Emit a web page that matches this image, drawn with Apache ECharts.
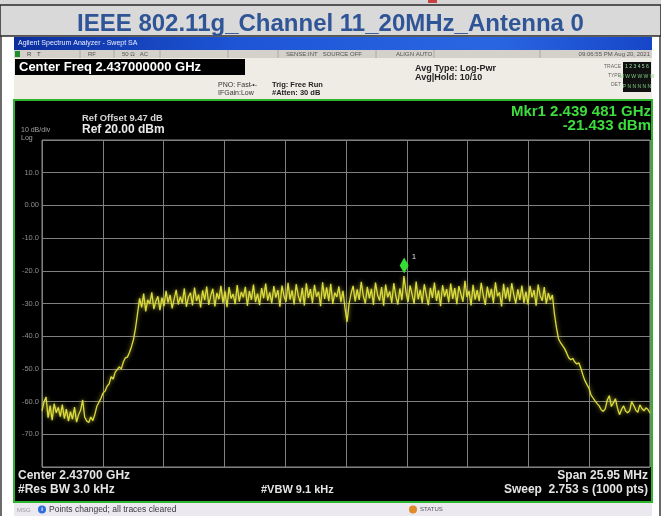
<!DOCTYPE html>
<html>
<head>
<meta charset="utf-8">
<script src="https://cdn.jsdelivr.net/npm/echarts@6/dist/echarts.min.js"></script>
<style>
  html, body { margin: 0; padding: 0; background: #ffffff; }
  #chart { width: 661px; height: 516px; }
</style>
</head>
<body>
<div id="chart"></div>
<script>
// ---- measurement setup ----
const titleText = 'IEEE 802.11g_Channel 11_20MHz_Antenna 0';
const centerFreqGHz = 2.437;
const spanMHz = 25.95;
const refLevelDbm = 20;
const bottomLevelDbm = -80;
const dbPerDiv = 10;

// y tick labels printed beside the graticule
const yTickValues = [10, 0, -10, -20, -30, -40, -50, -60, -70];
const yTickLabels = ['10.0', '0.00', '-10.0', '-20.0', '-30.0', '-40.0', '-50.0', '-60.0', '-70.0'];

// marker 1
const markerFreqGHz = 2.439481;
const markerLevelDbm = -21.433;

// swept trace, dBm, evenly spaced across the span
const traceDbm = [
  -62.8, -60.1, -58.6, -64.9, -61.2, -65.7, -60.6, -63.4, -61.8, -64.6,
  -60.9, -65.2, -62.3, -66.0, -63.1, -65.4, -61.7, -66.3, -64.0, -62.6,
  -59.5, -64.8, -65.9, -66.4, -64.7, -65.8, -63.9, -61.4, -60.2, -59.0,
  -57.4, -56.8, -55.3, -54.6, -52.4, -53.1, -51.0, -50.2, -49.4, -50.0,
  -47.9, -46.6, -46.4, -45.0, -43.2, -41.0, -37.5, -33.0, -28.4, -31.2,
  -27.0, -32.4, -28.9, -30.1, -26.6, -31.7, -29.3, -27.8, -32.0, -28.2,
  -30.8, -26.1, -29.7, -27.4, -31.5, -28.6, -25.8, -30.3, -27.9, -29.9,
  -25.4, -31.0, -28.0, -26.7, -30.6, -25.1, -29.2, -27.3, -31.2, -26.0,
  -29.0, -24.8, -30.4, -27.6, -25.5, -30.9, -26.8, -28.7, -24.6, -29.8,
  -26.3, -31.1, -25.0, -28.5, -27.1, -30.2, -24.4, -29.4, -26.5, -28.1,
  -24.9, -30.7, -26.2, -28.9, -24.2, -29.6, -27.0, -30.5, -25.3, -28.4,
  -23.9, -29.1, -26.6, -30.0, -24.7, -28.2, -25.9, -31.0, -24.5, -27.7,
  -29.5, -23.7, -28.8, -26.0, -30.3, -24.1, -27.5, -29.7, -25.2, -30.6,
  -23.8, -28.3, -25.6, -29.9, -24.3, -27.9, -26.4, -30.8, -23.5, -28.6,
  -25.1, -29.3, -24.0, -30.1, -26.7, -28.0, -24.8, -29.6, -26.1, -31.4,
  -35.6, -30.2, -26.9, -24.6, -29.4, -25.7, -28.9, -23.4, -27.6, -30.0,
  -24.9, -28.4, -25.5, -30.4, -23.6, -27.3, -29.1, -25.0, -30.7, -24.2,
  -28.1, -26.3, -29.8, -23.8, -27.7, -30.3, -25.4, -29.0, -21.6, -26.5,
  -29.6, -24.5, -27.2, -30.1, -23.3, -28.7, -25.8, -29.9, -24.1, -27.4,
  -30.5, -25.2, -28.3, -23.6, -29.2, -26.0, -30.8, -24.4, -27.9, -25.6,
  -29.7, -23.9, -28.6, -25.3, -30.2, -24.7, -27.1, -29.5, -23.1, -28.0,
  -26.2, -30.6, -24.3, -28.8, -25.9, -29.3, -23.7, -27.5, -30.4, -24.8,
  -28.2, -25.5, -29.9, -23.5, -27.8, -26.6, -30.9, -24.0, -28.5, -25.1,
  -29.4, -23.8, -27.3, -30.0, -25.7, -28.9, -24.5, -29.8, -26.4, -30.3,
  -24.6, -28.1, -25.9, -30.7, -24.2, -27.6, -29.2, -25.0, -30.1, -26.8,
  -28.9, -27.4, -33.2, -37.4, -40.8, -42.0, -42.9, -43.8, -45.1, -46.6,
  -47.2, -46.8, -47.9, -48.5, -48.1, -49.8, -51.9, -53.6, -54.8, -55.9,
  -58.0, -58.9, -59.8, -60.6, -61.3, -62.5, -63.0, -62.2, -59.5, -58.2,
  -61.5, -60.4, -59.1, -62.0, -64.0, -62.4, -61.3, -62.9, -63.4, -62.8,
  -60.0, -61.2, -62.6, -63.3, -61.0, -62.1, -62.8, -61.9, -62.4, -63.5
];

// ---- build the plotted series (x = offset from center, MHz) ----
const halfSpan = spanMHz / 2;
const divMHz = spanMHz / 10;
const tracePoints = traceDbm.map((v, i) => [-halfSpan + i * spanMHz / (traceDbm.length - 1), v]);
const markerOffsetMHz = (markerFreqGHz - centerFreqGHz) * 1000;

const FONT = '"Liberation Sans", Arial, sans-serif';

function txt(x, y, text, size, color, extra) {
  return Object.assign({
    type: 'text', z: 20,
    style: Object.assign({
      x: x, y: y, text: text, fill: color,
      font: (extra && extra.weight ? extra.weight + ' ' : '') + size + 'px ' + FONT,
      textAlign: (extra && extra.align) || 'left',
      textVerticalAlign: 'middle'
    }, (extra && extra.style) || {})
  }, (extra && extra.el) || {});
}
function box(x, y, w, h, fill, extra) {
  return Object.assign({
    type: 'rect', z: -5,
    shape: { x: x, y: y, width: w, height: h },
    style: Object.assign({ fill: fill }, (extra && extra.style) || {})
  }, (extra && extra.el) || {});
}
function vline(x, y1, y2, color, w) {
  return { type: 'line', z: 15, shape: { x1: x, y1: y1, x2: x, y2: y2 }, style: { stroke: color, lineWidth: w || 1 } };
}

const graphics = [
  // strip of the page above the heading
  box(0, 0, 661, 5, '#d6d6d6'),
  box(428, 0, 9, 3, '#c84040', { el: { z: -4 } }),
  // heading band
  box(0, 5, 661, 31, '#d9d9d9', { style: { stroke: '#2a2a2a', lineWidth: 1.5 } }),
  // page frame below the heading
  vline(1, 36, 516, '#3a3a3a', 1.5),
  vline(660, 36, 516, '#3a3a3a', 1.5),

  // analyzer window title bar
  { type: 'rect', z: -5, shape: { x: 14, y: 37, width: 638, height: 13 },
    style: { fill: new echarts.graphic.LinearGradient(0, 0, 1, 0, [
      { offset: 0, color: '#0c2e9e' }, { offset: 0.35, color: '#1d55d6' },
      { offset: 0.75, color: '#2a66e2' }, { offset: 1, color: '#1646c8' }]) } },
  txt(18, 43.5, 'Agilent Spectrum Analyzer - Swept SA', 7, '#e8eeff'),

  // toolbar row
  box(14, 50, 638, 8, '#d4d1ca'),
  box(15, 51, 5, 6, '#1f8f2a', { el: { z: -4 } }),
  txt(27, 54, 'R', 6, '#444'), txt(37, 54, 'T', 6, '#444'),
  txt(88, 54, 'RF', 6, '#555'), txt(122, 54, '50 Ω   AC', 6, '#555'),
  txt(286, 54, 'SENSE:INT   SOURCE OFF', 6, '#555'),
  txt(396, 54, 'ALIGN AUTO', 6, '#555'),
  txt(650, 54, '09:06:55 PM Aug 20, 2021', 6, '#555', { align: 'right' }),
  vline(80, 50, 58, '#aaa'), vline(114, 50, 58, '#aaa'), vline(160, 50, 58, '#aaa'),
  vline(228, 50, 58, '#aaa'), vline(278, 50, 58, '#aaa'), vline(376, 50, 58, '#aaa'),
  vline(434, 50, 58, '#aaa'), vline(540, 50, 58, '#aaa'),

  // settings area
  box(14, 58, 638, 42, '#efece5'),
  box(15, 59, 230, 16, '#000000', { el: { z: -4 } }),
  txt(19, 67, 'Center Freq 2.437000000 GHz', 13, '#ffffff', { weight: 'bold' }),
  txt(218, 85, 'PNO: Fast', 7, '#333'),
  txt(218, 93, 'IFGain:Low', 7, '#333'),
  txt(250, 85, '-•-', 7, '#333'),
  txt(272, 84.5, 'Trig: Free Run', 7.5, '#222', { weight: 'bold' }),
  txt(272, 93, '#Atten: 30 dB', 7.5, '#222', { weight: 'bold' }),
  txt(415, 69, 'Avg Type: Log-Pwr', 9, '#222', { weight: 'bold' }),
  txt(415, 78, 'Avg|Hold: 10/10', 9, '#222', { weight: 'bold' }),
  txt(621, 67, 'TRACE', 5, '#666', { align: 'right' }),
  txt(621, 76, 'TYPE', 5, '#666', { align: 'right' }),
  txt(621, 85, 'DET', 5, '#666', { align: 'right' }),
  box(623, 62, 28, 30, '#101010', { el: { z: -4 } }),
  txt(637, 67, '1 2 3 4 5 6', 5, '#9be09b', { align: 'center' }),
  txt(637, 77, 'M W W W W W', 5, '#7fcf7f', { align: 'center' }),
  txt(637, 87, 'P N N N N N', 5, '#7fcf7f', { align: 'center' }),

  // display screen
  box(14, 100, 638, 402, '#000000', { style: { stroke: '#2cb52c', lineWidth: 2 } }),
  txt(82, 118, 'Ref Offset 9.47 dB', 9.4, '#d6d6d6', { weight: 'bold' }),
  txt(82, 130, 'Ref 20.00 dBm', 12, '#e8e8e8', { weight: 'bold' }),
  txt(21, 130, '10 dB/div', 7, '#a0a0a0'),
  txt(21, 138.5, 'Log', 7, '#a0a0a0'),
  txt(651, 112, 'Mkr1 2.439 481 GHz', 15, '#3ddc3d', { weight: 'bold', align: 'right' }),
  txt(651, 126, '-21.433 dBm', 15, '#3ddc3d', { weight: 'bold', align: 'right' }),
  txt(18, 476, 'Center 2.43700 GHz', 12, '#e4e4e4', { weight: 'bold' }),
  txt(18, 490, '#Res BW 3.0 kHz', 12, '#e4e4e4', { weight: 'bold' }),
  txt(261, 490, '#VBW 9.1 kHz', 11, '#e4e4e4', { weight: 'bold' }),
  txt(648, 476, 'Span 25.95 MHz', 12, '#e4e4e4', { weight: 'bold', align: 'right' }),
  txt(648, 490, 'Sweep  2.753 s (1000 pts)', 12, '#e4e4e4', { weight: 'bold', align: 'right' }),

  // status bar
  box(14, 503, 638, 13, '#ebe8f0'),
  txt(17, 510, 'MSG', 6, '#9a9a9a'),
  { type: 'circle', z: 15, shape: { cx: 42, cy: 509.5, r: 4 }, style: { fill: '#2f6fd8' } },
  txt(42, 509.5, 'i', 6, '#ffffff', { align: 'center', weight: 'bold' }),
  txt(49, 509.5, 'Points changed; all traces cleared', 8.5, '#3a3a3a'),
  { type: 'circle', z: 15, shape: { cx: 413, cy: 509.5, r: 4 }, style: { fill: '#e08a2a' } },
  txt(420, 509.5, 'STATUS', 6, '#555')
];

const chart = echarts.init(document.getElementById('chart'), null, { renderer: 'canvas' });
chart.setOption({
  backgroundColor: '#ffffff',
  animation: false,
  title: {
    text: titleText, left: 'center', top: 7,
    textStyle: { fontFamily: FONT, fontSize: 24, fontWeight: 'bold', color: '#2f5597' }
  },
  graphic: graphics,
  grid: { left: 42, top: 140, width: 608, height: 327, show: true, borderColor: '#8a8a8a', borderWidth: 1, backgroundColor: 'transparent' },
  xAxis: {
    type: 'value', min: -halfSpan, max: halfSpan, interval: divMHz,
    axisLine: { show: false }, axisTick: { show: false }, axisLabel: { show: false },
    splitLine: { show: true, lineStyle: { color: '#808080', width: 1 } }
  },
  yAxis: {
    type: 'value', min: bottomLevelDbm, max: refLevelDbm, interval: dbPerDiv,
    axisLine: { show: false }, axisTick: { show: false },
    axisLabel: {
      show: true, margin: 3, color: '#8e8e8e', fontSize: 7.5, fontFamily: FONT,
      formatter: function (v) { const k = yTickValues.indexOf(v); return k >= 0 ? yTickLabels[k] : ''; }
    },
    splitLine: { show: true, lineStyle: { color: '#808080', width: 1 } }
  },
  series: [{
    type: 'line', data: tracePoints, showSymbol: false, symbol: 'none',
    lineStyle: { color: '#dcdc3c', width: 1.3, shadowBlur: 4, shadowColor: 'rgba(230,230,70,0.75)' },
    z: 5,
    markPoint: {
      symbol: 'diamond', symbolSize: [9, 16], symbolOffset: [0, -10],
      itemStyle: { color: '#33e033' },
      label: { show: true, formatter: '1', position: 'right', offset: [-2, -9], color: '#dddddd', fontSize: 8, fontFamily: FONT },
      data: [{ coord: [markerOffsetMHz, markerLevelDbm] }]
    }
  }]
});
</script>
</body>
</html>
